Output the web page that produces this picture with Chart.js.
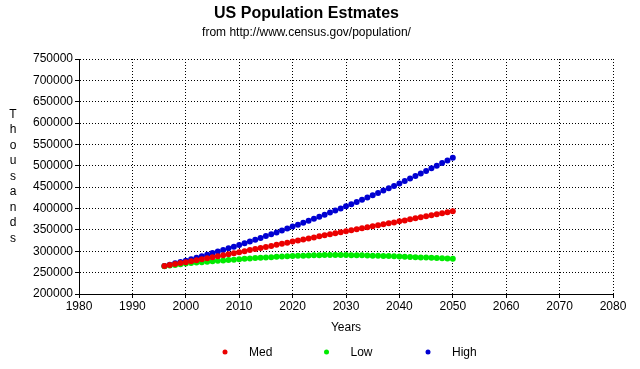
<!DOCTYPE html>
<html>
<head>
<meta charset="utf-8">
<title>US Population Estmates</title>
<script src="https://cdn.jsdelivr.net/npm/chart.js@4.4.0/dist/chart.umd.min.js"></script>
<style>
  html, body { margin: 0; padding: 0; background: #fff; }
  #wrap { width: 640px; height: 369px; }
</style>
</head>
<body>
<div id="wrap"><canvas id="popChart" width="640" height="369"></canvas></div>
<script>
// Dados (milhares de pessoas)
const years = [1996, 1997, 1998, 1999, 2000, 2001, 2002, 2003, 2004, 2005,
  2006, 2007, 2008, 2009, 2010, 2011, 2012, 2013, 2014, 2015,
  2016, 2017, 2018, 2019, 2020, 2021, 2022, 2023, 2024, 2025,
  2026, 2027, 2028, 2029, 2030, 2031, 2032, 2033, 2034, 2035,
  2036, 2037, 2038, 2039, 2040, 2041, 2042, 2043, 2044, 2045,
  2046, 2047, 2048, 2049, 2050];

const medSeries = [265300, 267600, 270000, 272300, 274600, 276900, 279200, 281400, 283600, 285900,
  288200, 290500, 292800, 295200, 297700, 300200, 302700, 305200, 307700, 310100,
  312600, 315100, 317600, 320200, 322700, 325200, 327600, 330000, 332500, 335000,
  337400, 339800, 342200, 344600, 346900, 349200, 351500, 353800, 356100, 358400,
  360700, 363000, 365300, 367600, 370000, 372300, 374700, 377100, 379500, 381900,
  384300, 386700, 389100, 391500, 393900];

const lowSeries = [265000, 266500, 267800, 269500, 271200, 272400, 273500, 274600, 275600, 276600,
  277600, 278500, 279400, 280400, 281500, 282400, 283200, 284000, 284800, 285500,
  286200, 286900, 287500, 288200, 288800, 289300, 289700, 290100, 290500, 290800,
  291000, 291100, 291200, 291200, 291100, 290900, 290700, 290400, 290100, 289800,
  289500, 289200, 288800, 288300, 287700, 287200, 286700, 286200, 285700, 285200,
  284700, 284200, 283700, 283100, 282500];

const highSeries = [265500, 268600, 271700, 274900, 278100, 281500, 285000, 288500, 292100, 295800,
  299500, 303200, 307000, 310800, 314600, 318700, 322800, 327000, 331200, 335500,
  339800, 344200, 348600, 353100, 357700, 362300, 366900, 371500, 376200, 380900,
  385700, 390500, 395300, 400200, 405100, 410200, 415400, 420600, 425900, 431200,
  436600, 442000, 447400, 452900, 458400, 464200, 470100, 476000, 482000, 488000,
  494100, 500200, 506400, 512600, 518900];

const seriesNames = ['Med', 'Low', 'High'];
const seriesColors = ['rgb(235,0,0)', 'rgb(0,235,0)', 'rgb(0,0,210)'];

const xMin = 1980, xMax = 2080, xStep = 10;
const yMin = 200000, yMax = 750000, yStep = 50000;

const titleText = 'US Population Estmates';
const subtitleText = 'from http://www.census.gov/population/';
const xTitle = 'Years';
const yTitle = 'Thousands';

const baseFont = '"Liberation Sans", Arial, sans-serif';

const toPoints = (vals) => years.map((yr, i) => ({ x: yr, y: vals[i] }));

// Rótulo vertical do eixo Y (letras empilhadas)
const sideLabel = {
  id: 'sideLabel',
  afterDraw(chart) {
    const { ctx, chartArea } = chart;
    const letters = yTitle.split('');
    const mid = (chartArea.top + chartArea.bottom) / 2;
    ctx.save();
    ctx.font = '12px ' + baseFont;
    ctx.fillStyle = '#000';
    ctx.textAlign = 'center';
    ctx.textBaseline = 'middle';
    letters.forEach((ch, i) => {
      ctx.fillText(ch, 13, mid + (i - (letters.length - 1) / 2) * 15.5);
    });
    ctx.restore();
  }
};

// Legenda embaixo, espaçada como no original
const bottomLegend = {
  id: 'bottomLegend',
  afterDraw(chart) {
    const { ctx } = chart;
    ctx.save();
    ctx.font = '12px ' + baseFont;
    ctx.textAlign = 'left';
    ctx.textBaseline = 'middle';
    chart.data.datasets.forEach((ds, i) => {
      const x = 225 + i * 101.5;
      const y = 352;
      ctx.fillStyle = ds.backgroundColor;
      ctx.beginPath();
      ctx.arc(x, y, 2.5, 0, Math.PI * 2);
      ctx.fill();
      ctx.fillStyle = '#000';
      ctx.fillText(ds.label, x + 24, y + 1);
    });
    ctx.restore();
  }
};

const makeDataset = (idx, vals) => ({
  label: seriesNames[idx],
  data: toPoints(vals),
  showLine: false,
  backgroundColor: seriesColors[idx],
  borderColor: seriesColors[idx],
  borderWidth: 0,
  pointRadius: 3,
  pointHoverRadius: 3
});

// grade pontilhada, marcas de tick sólidas
const gridOpts = {
  color: '#000',
  lineWidth: 1,
  tickLength: 4,
  tickColor: '#000',
  tickBorderDash: [],
  drawTicks: true
};
const borderOpts = { color: '#000', width: 1, dash: [1, 2] };

new Chart(document.getElementById('popChart').getContext('2d'), {
  type: 'scatter',
  data: {
    datasets: [
      makeDataset(0, medSeries),
      makeDataset(1, lowSeries),
      makeDataset(2, highSeries)
    ]
  },
  options: {
    responsive: false,
    animation: false,
    layout: { padding: { left: 0, right: 27, top: 0, bottom: 32 } },
    plugins: {
      legend: { display: false },
      tooltip: { enabled: false },
      title: {
        display: true,
        text: titleText,
        color: '#000',
        font: { family: baseFont, size: 16, weight: 'bold' },
        padding: { top: 4, bottom: 0 }
      },
      subtitle: {
        display: true,
        text: subtitleText,
        color: '#000',
        font: { family: baseFont, size: 12 },
        padding: { top: 2, bottom: 19.4 }
      }
    },
    scales: {
      x: {
        type: 'linear',
        min: xMin,
        max: xMax,
        afterFit: (s) => { s.height = 43; },
        border: borderOpts,
        grid: gridOpts,
        ticks: {
          stepSize: xStep,
          color: '#000',
          padding: 1,
          maxRotation: 0,
          font: { family: baseFont, size: 12 },
          callback: (v) => String(v)
        },
        title: {
          display: true,
          text: xTitle,
          color: '#000',
          font: { family: baseFont, size: 12 },
          padding: { top: 0, bottom: 2 }
        }
      },
      y: {
        min: yMin,
        max: yMax,
        afterFit: (s) => { s.width = 79; },
        border: borderOpts,
        grid: gridOpts,
        ticks: {
          stepSize: yStep,
          color: '#000',
          padding: 2,
          font: { family: baseFont, size: 12 },
          callback: (v) => String(v)
        }
      }
    }
  },
  plugins: [sideLabel, bottomLegend]
});
</script>
</body>
</html>
